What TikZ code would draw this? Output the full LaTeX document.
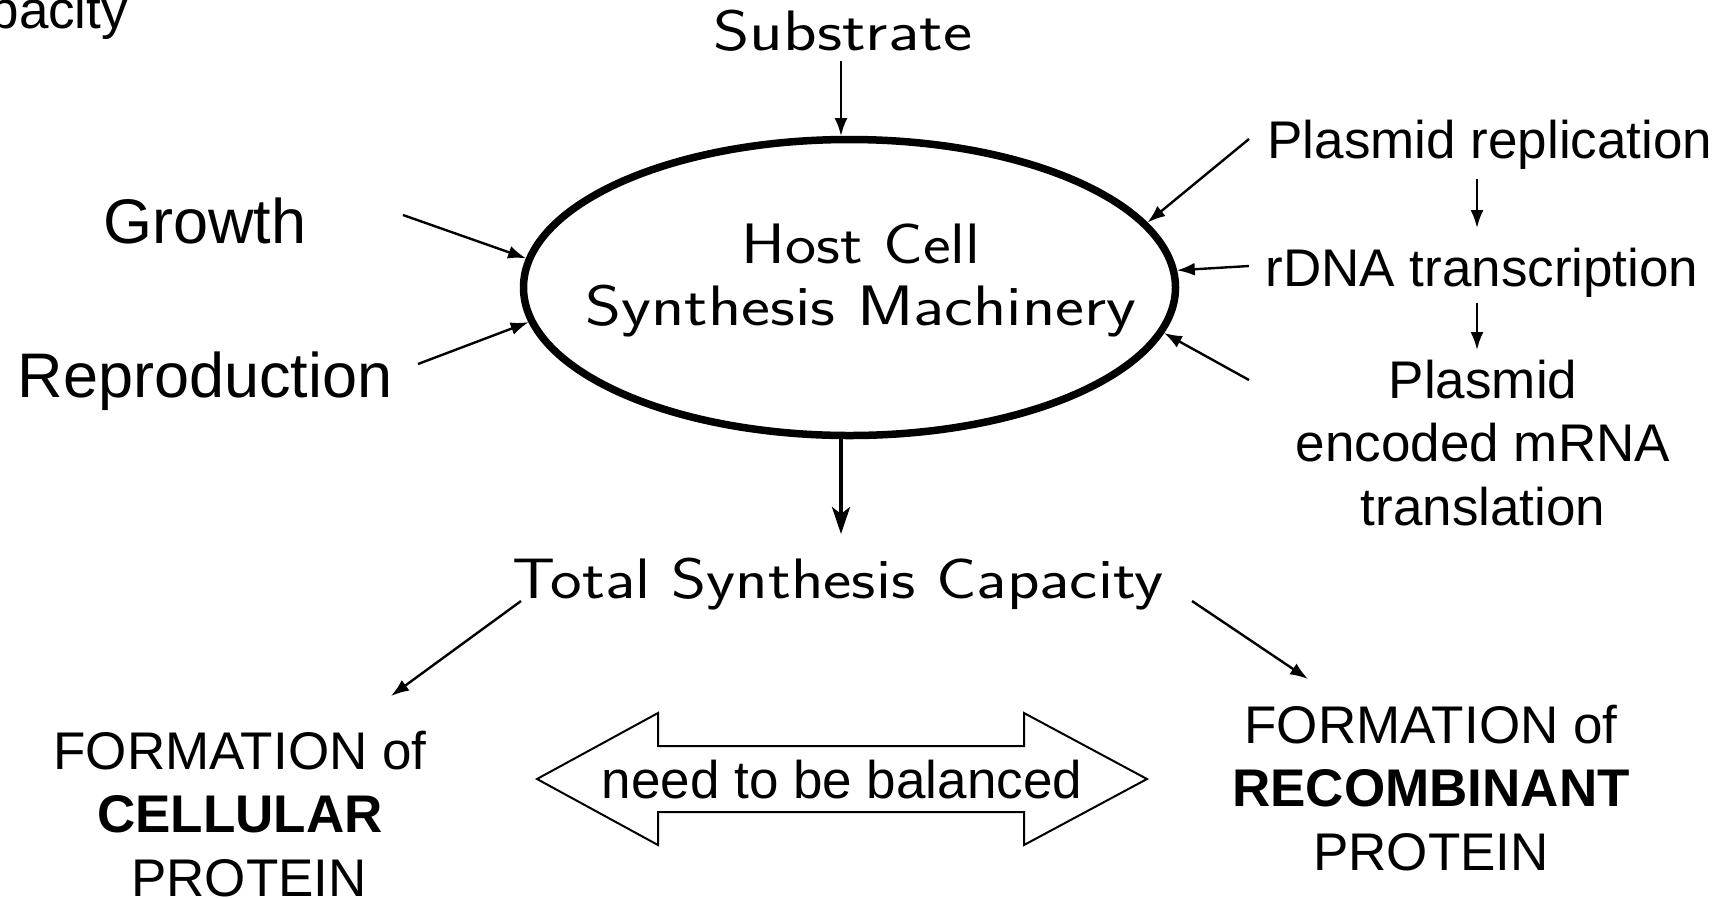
\documentclass[tikz,border=0pt]{standalone}
\usepackage{fontspec}
\setmainfont{Liberation Sans}
\usetikzlibrary{arrows.meta,shapes.geometric}
\begin{document}
\begin{tikzpicture}[x=1pt,y=-1pt,
  every node/.style={inner sep=0pt, outer sep=0pt},
  ar/.style={line width=2.4pt, -{Latex[length=18pt,width=13pt]}},
  thickar/.style={line width=4pt, -{Stealth[length=27pt,width=18pt,inset=7pt]}},
  armid/.style={font=\fontsize{53}{63.5}\selectfont},
  arbig/.style={font=\fontsize{63}{70}\selectfont},
  lms/.style={font=\sffamily\fontsize{57}{62}\selectfont},
  cellshape/.style={ellipse, draw, line width=7.5pt, minimum width=652pt, minimum height=296pt}
]
\useasboundingbox (0,0) rectangle (1726,898);

% cut-off text at top left
\node[armid, anchor=base east] (pac) at (128,28) {pacity};

% ellipse
\node[cellshape] (cell) at (849.5,287.5) {};
\node[lms, align=center, anchor=base] (hct) at (861,325) {\scalebox{1.16}[1]{Host Cell}\\\scalebox{1.21}[1]{Synthesis Machinery}};

% substrate
\node[lms, anchor=base] (subst) at (843,50) {\scalebox{1.22}[1]{Substrate}};
\coordinate (s1) at (841,61);
\draw[ar, shorten >=3.5pt] (s1) -- (s1 |- cell.north);

% total synthesis capacity
\node[lms, anchor=base] (tsc) at (838,598) {\scalebox{1.18}[1]{Total Synthesis Capacity}};
\coordinate (t1) at (841,534);
\draw[thickar, shorten <=3.5pt] (t1 |- cell.south) -- (t1);

% left inputs
\node[arbig, anchor=base] (growth) at (205,243) {Growth};
\node[arbig, anchor=base] (repro) at (205,397) {Reproduction};
\coordinate (g1) at (403,215);
\coordinate (r1) at (418,364);
\draw[ar, shorten >=3.5pt] (g1) -- (cell.175);
\draw[ar, shorten >=3.5pt] (r1) -- (cell.186);

% right inputs
\node[armid, anchor=base] (prep) at (1490,158) {Plasmid replication};
\node[armid, anchor=base] (rdna) at (1482,286) {rDNA transcription};
\node[armid, anchor=base, align=center] (mrna) at (1483,525) {Plasmid\\encoded mRNA\\translation};
\coordinate (p1) at (1249,139);
\coordinate (p2) at (1249,266);
\coordinate (p3) at (1249,380);
\draw[ar, shorten >=3.5pt] (p1) -- (cell.12.3);
\draw[ar, shorten >=3.5pt] (p2) -- (cell.3.8);
\draw[ar, shorten >=3.5pt] (p3) -- (cell.352.2);
\coordinate (d1a) at (1477,179);
\coordinate (d1b) at (1477,228);
\coordinate (d2a) at (1477,303);
\coordinate (d2b) at (1477,350);
\draw[ar] (d1a) -- (d1b);
\draw[ar] (d2a) -- (d2b);

% outputs
\node[armid, anchor=base, align=center] (cellp) at (240,896) {FORMATION of\\\textbf{CELLULAR}\\\hspace*{18pt}PROTEIN};
\node[armid, anchor=base, align=center] (recp) at (1431,870) {FORMATION of\\\textbf{RECOMBINANT}\\PROTEIN};
\coordinate (o1) at (521,601);
\coordinate (o2) at (391,696);
\coordinate (o3) at (1192,601);
\coordinate (o4) at (1308,679);
\draw[ar] (o1) -- (o2);
\draw[ar] (o3) -- (o4);

% balance double arrow
\draw[line width=2pt, line join=miter] (537,779) -- (658,713) -- (658,746) -- (1024,746) -- (1024,713) -- (1147,779) -- (1024,845) -- (1024,812) -- (658,812) -- (658,845) -- cycle;
\node[armid, anchor=base] (bal) at (842,798) {need to be balanced};
\end{tikzpicture}
\end{document}
